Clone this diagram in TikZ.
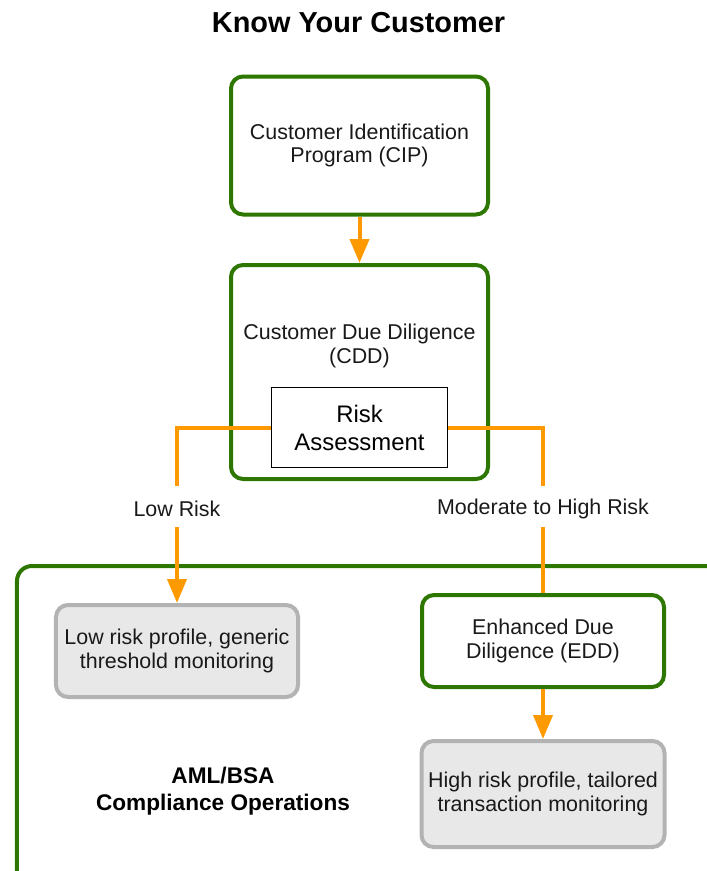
\documentclass[tikz,border=0pt]{standalone}
\usepackage{fontspec}
\setmainfont{Liberation Sans}
\usetikzlibrary{arrows.meta}
\definecolor{kgreen}{HTML}{2D7600}
\definecolor{korange}{HTML}{FF9900}
\definecolor{kgrayfill}{HTML}{E8E8E8}
\definecolor{kgraydraw}{HTML}{B3B3B3}
\begin{document}
\begin{tikzpicture}[x=1bp,y=-1bp,
  % a strut on the first line sets the text a little lower in its box
  txt/.style={font=\fontsize{21.5}{24}\selectfont, align=center, text=black!90,
              execute at begin node={\rule{0pt}{21bp}}},
  greenbox/.style={draw=kgreen, line width=4bp, rounded corners=12bp, fill=white, align=center, inner sep=0pt},
  graybox/.style={draw=kgraydraw, line width=4bp, rounded corners=12bp, fill=kgrayfill, align=center, inner sep=0pt},
  flow/.style={draw=korange, line width=4bp},
  flowarrow/.style={flow, -{Triangle[length=24bp,width=19bp]}},
  lbl/.style={txt, minimum height=41bp, inner sep=0pt}
]
\useasboundingbox (0,0) rectangle (707,871);
\clip (0,0) rectangle (707,871);

% title
\node[font=\bfseries\fontsize{29}{34}\selectfont] (title) at (358.5,23) {Know Your Customer};

% operations area (runs off the right and bottom edges)
\node[draw=kgreen, line width=4bp, rounded corners=15bp, minimum width=721bp, minimum height=332bp, inner sep=0pt] (ops) at (377.5,732) {};
\node[font=\bfseries\fontsize{22.7}{27.5}\selectfont, align=center] (opslabel) at (223,791) {AML/BSA\\Compliance Operations};

% KYC steps
\node[greenbox, txt, minimum width=257bp, minimum height=138bp] (cip) at (359.5,145.5) {Customer Identification\\Program (CIP)};
\node[greenbox, minimum width=257bp, minimum height=214bp] (cdd) at (359.5,372) {};
\node[txt] (cddtext) at (359.5,346) {Customer Due Diligence\\(CDD)};
\node[draw=black, line width=1.3bp, fill=white, minimum width=176bp, minimum height=80bp, inner sep=0pt,
      font=\fontsize{24}{28}\selectfont, align=center] (ra) at (359.5,427.5) {Risk\\Assessment};

% branch labels
\node[lbl] (lowlbl) at (177,506.5) {Low Risk};
\node[lbl] (highlbl) at (543,506.5) {Moderate to High Risk};

% outcomes
\node[graybox, txt, minimum width=242bp, minimum height=92bp] (lowbox) at (177,651) {Low risk profile, generic\\threshold monitoring};
\node[greenbox, txt, minimum width=242bp, minimum height=92bp] (edd) at (543,641) {Enhanced Due\\Diligence (EDD)};
\node[graybox, txt, minimum width=243bp, minimum height=106bp] (highbox) at (543,794) {High risk profile, tailored\\transaction monitoring};

% connectors
\draw[flowarrow] (cip) -- (cdd);
\draw[flow] (ra.west) -| (lowlbl.north);
\draw[flowarrow] (lowlbl.south) -- (lowbox.north);
\draw[flow] (ra.east) -| (highlbl.north);
\draw[flow] (highlbl.south) -- (edd.north);
\draw[flowarrow] (edd) -- (highbox);
\end{tikzpicture}
\end{document}
